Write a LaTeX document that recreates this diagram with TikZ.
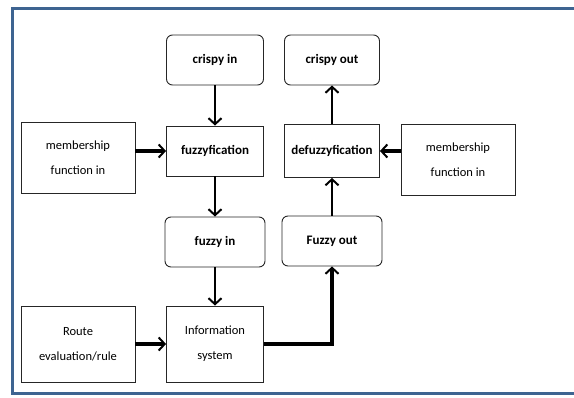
\documentclass[tikz,border=0pt]{standalone}
\usepackage{fontspec}
\setmainfont{Carlito}
\usepackage{tikz}
\usetikzlibrary{arrows.meta, positioning, calc}
\definecolor{framecol}{HTML}{3E6491}
\tikzstyle{soft} = [rectangle, rounded corners=6pt, minimum width=97pt, minimum height=50pt, text centered, draw=black!85, line width=0.9pt, font=\fontsize{13}{15}\selectfont\bfseries]
\tikzstyle{block} = [rectangle, minimum width=97pt, minimum height=50pt, text centered, draw=black!85, line width=0.9pt, font=\fontsize{13}{15}\selectfont\bfseries]
\tikzstyle{side} = [rectangle, minimum width=114pt, minimum height=71pt, align=center, draw=black!85, line width=0.9pt, font=\fontsize{12.5}{25}\selectfont]
\tikzstyle{arrow} = [line width=2.4pt,-{Straight Barb[length=6pt,width=13pt,line width=2pt]}]
\tikzstyle{fatarrow} = [line width=4pt,-{Straight Barb[length=6pt,width=13pt,line width=2pt]}]

\begin{document}
\begin{tikzpicture}[node distance=91pt]
        \useasboundingbox (0,0) rectangle (574pt,-398pt);
        \draw [framecol, line width=3pt] (580pt,-8.5pt) -- (12.5pt,-8.5pt) -- (12.5pt,-393.5pt) -- (580pt,-393.5pt);

        \node (crispyin) [soft] at (215pt,-60pt) {crispy in};
        \node (fuzz) [block, below of=crispyin] {fuzzyfication};
        \node (fuzzyin) [soft, below of=fuzz, minimum width=100pt] {fuzzy in};
        \node (info) [side, below of=fuzzyin, yshift=-11pt, minimum width=97pt, minimum height=76pt] {Information\\system};
        \node (meml) [side, left of=fuzz, xshift=-46pt, yshift=-7pt] {membership\\function in};
        \node (route) [side, left of=info, xshift=-46pt, minimum height=76pt] {Route\\evaluation/rule};

        \node (crispyout) [soft, right of=crispyin, xshift=26pt, minimum width=95pt] {crispy out};
        \node (defuzz) [block, below of=crispyout, yshift=0pt, minimum width=95pt, minimum height=53pt] {defuzzyfication};
        \node (fuzzyout) [soft, below of=defuzz, yshift=1pt, minimum width=100pt] {Fuzzy out};
        \node (memr) [side, right of=defuzz, xshift=35pt, yshift=-9pt] {membership\\function in};

        \draw [arrow] (crispyin) -- (fuzz);
        \draw [arrow] (fuzz) -- (fuzzyin);
        \draw [arrow] (fuzzyin) -- (info);
        \draw [fatarrow] (meml.east |- fuzz) -- (fuzz);
        \draw [fatarrow] (route) -- (info);
        \draw [fatarrow, line width=3.5pt] (info.east) -| (fuzzyout.south);
        \draw [arrow] (fuzzyout) -- (defuzz);
        \draw [arrow] (defuzz) -- (crispyout);
        \draw [fatarrow] (memr.west |- defuzz) -- (defuzz);
    \end{tikzpicture}
\end{document}
